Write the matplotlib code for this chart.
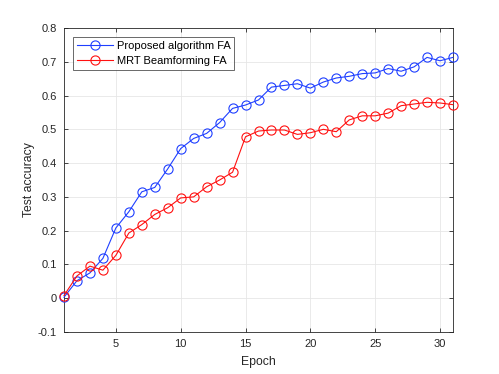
import matplotlib
matplotlib.use('Agg')
import matplotlib.pyplot as plt

plt.rcParams['font.family'] = ['Liberation Sans', 'DejaVu Sans']

epochs = list(range(1, 32))
proposed_fa = [0.003, 0.052, 0.075, 0.118, 0.208, 0.256, 0.315, 0.328, 0.383, 0.443,
               0.473, 0.488, 0.520, 0.562, 0.572, 0.587, 0.625, 0.630, 0.635, 0.622,
               0.640, 0.652, 0.657, 0.665, 0.667, 0.680, 0.672, 0.685, 0.713, 0.703, 0.713]
mrt_fa = [0.008, 0.066, 0.095, 0.083, 0.127, 0.193, 0.218, 0.248, 0.268, 0.297,
          0.300, 0.330, 0.350, 0.373, 0.478, 0.495, 0.498, 0.498, 0.485, 0.490,
          0.500, 0.493, 0.528, 0.540, 0.540, 0.548, 0.570, 0.575, 0.580, 0.578, 0.573]
x_ticks = [5, 10, 15, 20, 25, 30]
y_ticks = [-0.1, 0, 0.1, 0.2, 0.3, 0.4, 0.5, 0.6, 0.7, 0.8]
y_labels = ['-0.1', '0', '0.1', '0.2', '0.3', '0.4', '0.5', '0.6', '0.7', '0.8']

fig = plt.figure(figsize=(4.99, 3.74), dpi=100)
ax = fig.add_axes([64/499, 1 - 332/374, (453-64)/499, (332-28)/374])

ax.plot(epochs, proposed_fa, '-o', color='#1f3fff', lw=0.8, ms=6.6, mfc='none', mew=0.8,
        label='Proposed algorithm FA', clip_on=False, zorder=3)
ax.plot(epochs, mrt_fa, '-o', color='#ff1010', lw=0.8, ms=6.6, mfc='none', mew=0.8,
        label='MRT Beamforming FA', clip_on=False, zorder=3)

ax.set_xlim(1, 31)
ax.set_ylim(-0.1, 0.8)
ax.set_xticks(x_ticks)
ax.set_yticks(y_ticks)
ax.set_yticklabels(y_labels)
ax.grid(True, color='#e6e6e6', lw=0.6)
ax.set_axisbelow(True)
for s in ax.spines.values():
    s.set_color('#262626')
    s.set_linewidth(0.6)
ax.tick_params(direction='in', length=3, width=0.6, top=True, right=True,
               labelsize=8, colors='#262626', pad=5)
ax.set_xlabel('Epoch', fontsize=8.8, color='#262626', labelpad=5)
ax.set_ylabel('Test accuracy', fontsize=8.8, color='#262626', labelpad=2)

leg = ax.legend(loc='upper left', fontsize=8, frameon=True, fancybox=False,
                edgecolor='#262626', borderaxespad=0.85, handlelength=3.2,
                borderpad=0.35, labelspacing=0.45, handletextpad=0.35)
leg.get_frame().set_linewidth(0.6)

fig.savefig('out.png', dpi=100)
